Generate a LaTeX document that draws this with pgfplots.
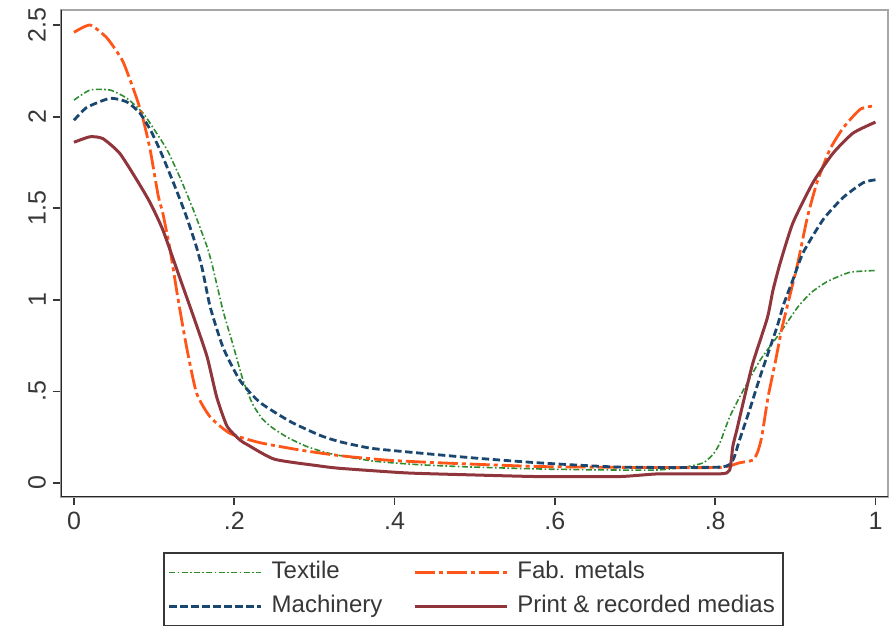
\documentclass[border=0pt]{standalone}
\usepackage{pgfplots}
\pgfplotsset{compat=1.18}
\usepackage{fontspec}
\setmainfont{Liberation Sans}
\definecolor{txgreen}{RGB}{46,140,46}
\definecolor{mcnavy}{RGB}{26,71,111}
\definecolor{fmorange}{RGB}{255,85,25}
\definecolor{prmaroon}{RGB}{144,53,59}
\definecolor{txtgray}{RGB}{55,55,55}
\begin{document}
\begin{tikzpicture}
\path[use as bounding box] (0pt,0pt) rectangle (448pt,313pt);
\begin{axis}[
  at={(30.5pt,64.5pt)}, anchor=south west,
  scale only axis, width=413.5pt, height=243.5pt,
  xmin=-0.0162, xmax=1.0156, ymin=-0.0764, ymax=2.582,
  axis line style={draw=gray!70, line width=0.9pt},
  xtick={0,0.2,0.4,0.6,0.8,1}, xticklabels={0,.2,.4,.6,.8,1},
  ytick={0,0.5,1,1.5,2,2.5}, yticklabels={0,.5,1,1.5,2,2.5},
  xtick pos=left, ytick pos=left, tick align=outside,
  major tick length=4pt,
  tick style={draw=txtgray, line width=0.9pt},
  ticklabel style={font=\fontsize{12.5}{15}\selectfont, text=txtgray},
  yticklabel style={rotate=90, anchor=south},
  /pgf/number format/assume math mode=true,
  legend columns=2,
  legend cell align=left,
  legend style={at={(0.1233,-0.1129)}, anchor=north west,
    draw=txtgray, line width=0.9pt, fill=white,
    font=\fontsize{12}{14}\selectfont, text=txtgray,
    inner sep=2pt, row sep=1.5pt,
    nodes={text height=9pt, text depth=2.5pt},
    /tikz/every even column/.append style={column sep=13.5pt}},
  legend image code/.code={\draw[#1] (0pt,0pt) -- (46pt,0pt); \path (48.5pt,0pt);},
  every axis plot/.append style={smooth, tension=0.35},
]
\addplot[txgreen, line width=0.8pt, dash pattern=on 3pt off 1.2pt on 0.8pt off 1.2pt] coordinates {
(0,2.09) (0.02,2.145) (0.045,2.145) (0.066,2.10) (0.086,2.02) (0.10,1.93) (0.116,1.82) (0.132,1.67) (0.149,1.49) (0.166,1.29) (0.173,1.18) (0.186,0.94) (0.198,0.76) (0.211,0.56) (0.223,0.43) (0.235,0.35) (0.248,0.30) (0.266,0.25) (0.29,0.20) (0.32,0.16) (0.373,0.12) (0.43,0.10) (0.498,0.087) (0.598,0.075) (0.72,0.07) (0.76,0.085) (0.785,0.11) (0.798,0.16) (0.806,0.22) (0.818,0.36) (0.833,0.49) (0.856,0.67) (0.881,0.82) (0.903,0.96) (0.92,1.04) (0.94,1.10) (0.968,1.15) (1.0,1.16)
};
\addlegendentry{Textile}
\addplot[fmorange, line width=1.4pt, dash pattern=on 10pt off 2pt on 2pt off 2pt] coordinates {
(0,2.46) (0.02,2.50) (0.041,2.43) (0.06,2.31) (0.07,2.20) (0.079,2.09) (0.086,1.99) (0.095,1.82) (0.105,1.57) (0.111,1.47) (0.12,1.27) (0.13,1.0) (0.141,0.73) (0.153,0.49) (0.17,0.36) (0.195,0.27) (0.232,0.22) (0.282,0.18) (0.33,0.15) (0.39,0.125) (0.457,0.11) (0.58,0.09) (0.70,0.085) (0.806,0.085) (0.83,0.11) (0.847,0.125) (0.853,0.17) (0.858,0.25) (0.866,0.47) (0.875,0.66) (0.883,0.84) (0.893,1.02) (0.903,1.2) (0.915,1.45) (0.927,1.64) (0.943,1.82) (0.96,1.94) (0.981,2.04) (1.0,2.06)
};
\addlegendentry{Fab. metals}
\addplot[mcnavy, line width=1.4pt, dash pattern=on 3.7pt off 1.8pt] coordinates {
(0,1.98) (0.016,2.05) (0.045,2.10) (0.066,2.08) (0.082,2.02) (0.095,1.93) (0.107,1.82) (0.124,1.64) (0.139,1.47) (0.152,1.30) (0.16,1.17) (0.17,0.96) (0.186,0.74) (0.207,0.56) (0.232,0.44) (0.27,0.335) (0.307,0.26) (0.332,0.225) (0.37,0.19) (0.415,0.17) (0.498,0.137) (0.58,0.11) (0.68,0.087) (0.806,0.087) (0.822,0.125) (0.83,0.23) (0.843,0.40) (0.856,0.58) (0.877,0.85) (0.885,0.97) (0.897,1.11) (0.91,1.26) (0.935,1.44) (0.96,1.56) (0.985,1.64) (1.0,1.655)
};
\addlegendentry{Machinery}
\addplot[prmaroon, line width=1.5pt] coordinates {
(0,1.86) (0.02,1.89) (0.036,1.88) (0.057,1.80) (0.079,1.65) (0.095,1.53) (0.111,1.38) (0.132,1.12) (0.149,0.91) (0.166,0.69) (0.178,0.47) (0.191,0.31) (0.207,0.235) (0.216,0.21) (0.25,0.13) (0.303,0.095) (0.332,0.08) (0.415,0.055) (0.498,0.044) (0.58,0.035) (0.68,0.035) (0.73,0.05) (0.806,0.05) (0.818,0.07) (0.822,0.2) (0.827,0.29) (0.835,0.44) (0.847,0.655) (0.865,0.9) (0.872,1.05) (0.881,1.2) (0.897,1.42) (0.922,1.64) (0.947,1.80) (0.972,1.91) (1.0,1.97)
};
\addlegendentry{Print \& recorded medias}
\draw[black!85, line width=1.3pt] (rel axis cs:0,1) -- (rel axis cs:0,0) -- (rel axis cs:1,0);
\end{axis}
\end{tikzpicture}
\end{document}
